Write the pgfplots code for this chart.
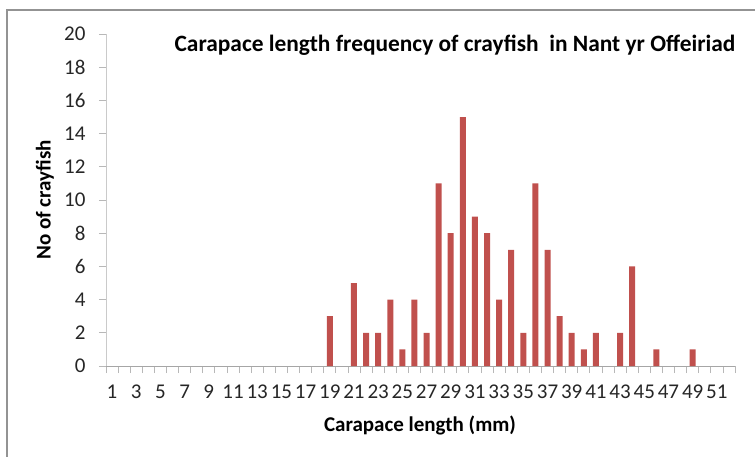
\documentclass[border=0pt]{standalone}
\usepackage{pgfplots}
\pgfplotsset{compat=1.18}
\usepackage{fontspec}
\setmainfont{Carlito}
\definecolor{barred}{HTML}{C0504D}
\definecolor{axgray}{HTML}{A6A6A6}
\definecolor{txt}{HTML}{262626}
\begin{document}
\begin{tikzpicture}
\useasboundingbox (0pt,0pt) rectangle (755pt,456pt);
\begin{scope}
\clip (0pt,0pt) rectangle (755pt,456pt);
\draw[color=gray!85, line width=1.6pt] (7pt,-20pt) rectangle (780pt,446pt);
\end{scope}
\begin{axis}[
  at={(106pt,90pt)}, anchor=south west,
  scale only axis, width=629pt, height=332pt,
  xmin=0.5, xmax=52.5, ymin=0, ymax=20,
  axis x line*=bottom, axis y line*=left,
  x axis line style={-, draw=axgray, line width=0.9pt},
  y axis line style={-, draw=axgray!60, line width=0.9pt},
  ytick={0,2,...,20},
  xtick={1,3,...,51},
  minor xtick={0.5,1.5,...,52.5},
  major x tick style={draw=none},
  tick align=outside,
  major tick length=7pt, minor tick length=7pt,
  y tick style={draw=axgray!80, line width=0.8pt},
  minor x tick style={draw=axgray!80, line width=0.8pt},
  tick label style={font=\fontsize{21}{24}\selectfont, text=txt},
  /pgf/number format/assume math mode=true,
  yticklabel style={xshift=-10pt},
  xticklabel style={yshift=-8pt},
  ybar, bar width=6pt,
  clip=false,
]
\addplot[fill=barred, draw=none] coordinates {
(19,3) (21,5) (22,2) (23,2) (24,4) (25,1) (26,4) (27,2) (28,11) (29,8)
(30,15) (31,9) (32,8) (33,4) (34,7) (35,2) (36,11) (37,7) (38,3) (39,2)
(40,1) (41,2) (43,2) (44,6) (46,1) (49,1)
};
\end{axis}
\node[font=\bfseries\fontsize{23.4}{26}\selectfont, text=black] at (455pt,411pt) {Carapace length frequency of crayfish\ \ in Nant yr Offeiriad};
\node[font=\bfseries\fontsize{21}{24}\selectfont, text=black] at (420pt,31pt) {Carapace length (mm)};
\node[font=\bfseries\fontsize{21}{24}\selectfont, text=black, rotate=90] at (45pt,256pt) {No of crayfish};
\end{tikzpicture}
\end{document}
